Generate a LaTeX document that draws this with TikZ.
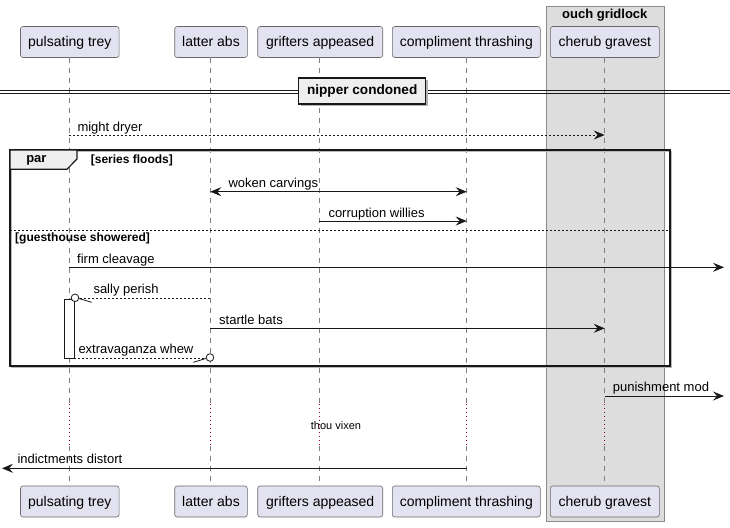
\documentclass[tikz,border=0pt]{standalone}
\usepackage{fontspec}
\setmainfont{Liberation Sans}
\usetikzlibrary{arrows.meta,calc}
\definecolor{pfill}{HTML}{E2E2F0}
\definecolor{pline}{HTML}{181818}
\definecolor{boxfill}{HTML}{DDDDDD}
\definecolor{boxline}{HTML}{8A8A8A}
\definecolor{tabfill}{HTML}{EEEEEE}
\definecolor{delayc}{HTML}{A80036}
\tikzset{
  part/.style={draw=pline!65, fill=pfill, rounded corners=2.5pt, line width=0.6pt,
    minimum height=31pt, inner sep=0pt, text height=11.5pt, text depth=2.5pt,
    font=\fontsize{14}{16}\selectfont, text=black},
  msg/.style={draw=pline, line width=0.8pt},
  dotmsg/.style={draw=pline, line width=0.8pt, dash pattern=on 2pt off 2pt},
  arr/.style={-{Stealth[length=11pt,width=9pt,inset=4pt]}},
  barr/.style={{Stealth[length=11pt,width=9pt,inset=4pt]}-{Stealth[length=11pt,width=9pt,inset=4pt]}},
  lbl/.style={font=\fontsize{13}{15}\selectfont, inner sep=0pt, anchor=base west},
  life/.style={draw=gray, line width=0.6pt, dash pattern=on 5pt off 5pt},
  delayline/.style={draw=delayc, line width=0.9pt, dash pattern=on 1pt off 3pt},
  cond/.style={font=\bfseries\fontsize{12}{14}\selectfont, inner sep=0pt},
  endcirc/.style={draw=pline, fill=white, line width=0.8pt},
}
\begin{document}
\begin{tikzpicture}[x=1pt,y=-1pt]
\useasboundingbox (0,0) rectangle (730,527);
% group box
\node[draw=boxline, fill=boxfill, line width=0.8pt, minimum width=117.7pt, minimum height=515pt, inner sep=0pt, anchor=north west] (grp) at (546,6) {};
\node[font=\bfseries\fontsize{13}{15}\selectfont, inner sep=0pt] (grptitle) at (604.8,15) {ouch gridlock};

% participants top
\node[part, minimum width=98.6pt] (p1t) at (69.8,42) {pulsating trey};
\node[part, minimum width=72.6pt] (p2t) at (211,42) {latter abs};
\node[part, minimum width=125pt] (p3t) at (320.2,42) {grifters appeased};
\node[part, minimum width=148pt] (p4t) at (466.3,42) {compliment thrashing};
\node[part, minimum width=109pt] (p5t) at (604.8,42) {cherub gravest};
% participants bottom
\node[part, minimum width=98.6pt] (p1b) at (69.8,501.5) {pulsating trey};
\node[part, minimum width=72.6pt] (p2b) at (211,501.5) {latter abs};
\node[part, minimum width=125pt] (p3b) at (320.2,501.5) {grifters appeased};
\node[part, minimum width=148pt] (p4b) at (466.3,501.5) {compliment thrashing};
\node[part, minimum width=109pt] (p5b) at (604.8,501.5) {cherub gravest};

% lifelines with delay
\foreach \p/\x in {1/69.3,2/210.3,3/319.3,4/466.7,5/604.7}{
  \coordinate (d\p a) at (\x,403.5);
  \coordinate (d\p b) at (\x,445.5);
  \draw[life] (\x,57.5) -- (d\p a);
  \draw[delayline] (d\p a) -- (d\p b);
  \draw[life] (d\p b) -- (\x,485.5);
}
\node[font=\fontsize{11}{13}\selectfont, inner sep=0pt] (delaytxt) at (336,426) {thou vixen};

% divider
\coordinate (dvl1) at (0,90); \coordinate (dvr1) at (730,90);
\coordinate (dvl2) at (0,93.3); \coordinate (dvr2) at (730,93.3);
\draw[line width=1pt, pline] (dvl1) -- (dvr1);
\draw[line width=1pt, pline] (dvl2) -- (dvr2);
\fill[gray!60] (300.5,79.5) rectangle (427.5,105.8);
\node[draw=pline, fill=tabfill, line width=1.5pt, minimum width=127pt, minimum height=26.3pt, inner sep=0pt,
  font=\bfseries\fontsize{13.6}{15}\selectfont] (divider) at (362.2,90.9) {nipper condoned};

% might dryer
\coordinate (m1s) at (69.3,135); \coordinate (m1e) at (604.7,135);
\draw[dotmsg, arr] (m1s) -- (m1e);
\node[lbl] (m1l) at (77.3,131) {might dryer};

% par frame
\draw[gray!55, line width=1pt] (11.5,151.5) rectangle (671.5,367.5);
\draw[pline, line width=1.5pt] (10,150) rectangle (670,366);
\draw[pline, line width=1.2pt, fill=tabfill] (10,150) -- (77,150) -- (77,159) -- (67,169.2) -- (10,169.2) -- cycle;
\node[font=\bfseries\fontsize{13}{15}\selectfont, inner sep=0pt] (partxt) at (36.4,160.5) {par};
\node[cond, anchor=west] (c1) at (90.7,160) {[series floods]};
\coordinate (sepl) at (10,230.5); \coordinate (sepr) at (670,230.5);
\draw[pline, line width=0.8pt, dash pattern=on 2pt off 2pt] (sepl) -- (sepr);
\node[cond, anchor=west] (c2) at (15,238.3) {[guesthouse showered]};

% woken carvings
\coordinate (m2s) at (210.3,191.7); \coordinate (m2e) at (466.7,191.7);
\draw[msg, barr] (m2s) -- (m2e);
\node[lbl] (m2l) at (228.3,187.5) {woken carvings};

% corruption willies
\coordinate (m3s) at (319.3,221); \coordinate (m3e) at (466.7,221);
\draw[msg, arr] (m3s) -- (m3e);
\node[lbl] (m3l) at (328.3,217) {corruption willies};

% firm cleavage
\coordinate (m4s) at (69.3,267.3); \coordinate (m4e) at (724,267.3);
\draw[msg, arr] (m4s) -- (m4e);
\node[lbl] (m4l) at (77,263) {firm cleavage};

% activation
\node[draw=pline, fill=white, line width=0.8pt, minimum width=10pt, minimum height=59.5pt, inner sep=0pt, anchor=north west] (act) at (64.3,298.5) {};

% sally perish
\coordinate (m5s) at (210.3,298.2); \coordinate (m5e) at (78.8,298.2);
\draw[dotmsg] (m5s) -- (m5e);
\node[endcirc, circle, minimum size=7.6pt, inner sep=0pt] (c5) at (75,297.8) {};
\coordinate (b5) at (91.7,302.3);
\draw[msg] ($(c5.east)+(0,0.8)$) -- (b5);
\node[lbl] (m5l) at (93.3,293.5) {sally perish};

% startle bats
\coordinate (m6s) at (210.3,328.3); \coordinate (m6e) at (604.7,328.3);
\draw[msg, arr] (m6s) -- (m6e);
\node[lbl] (m6l) at (219,324) {startle bats};

% extravaganza whew
\coordinate (m7s) at (74.3,358); \coordinate (m7e) at (206.2,358);
\draw[dotmsg] (m7s) -- (m7e);
\node[endcirc, circle, minimum size=7.6pt, inner sep=0pt] (c7) at (210,357.5) {};
\coordinate (b7) at (193.3,362.3);
\draw[msg] (b7) -- ($(c7.west)+(0,1)$);
\node[lbl] (m7l) at (78.3,353.5) {extravaganza whew};

% punishment mod
\coordinate (m8s) at (604.7,396); \coordinate (m8e) at (724,396);
\draw[msg, arr] (m8s) -- (m8e);
\node[lbl] (m8l) at (612.7,391.5) {punishment mod};

% indictments distort
\coordinate (m9s) at (466.7,468.3); \coordinate (m9e) at (2,468.3);
\draw[msg, arr] (m9s) -- (m9e);
\node[lbl] (m9l) at (17.3,463.8) {indictments distort};
\end{tikzpicture}
\end{document}
